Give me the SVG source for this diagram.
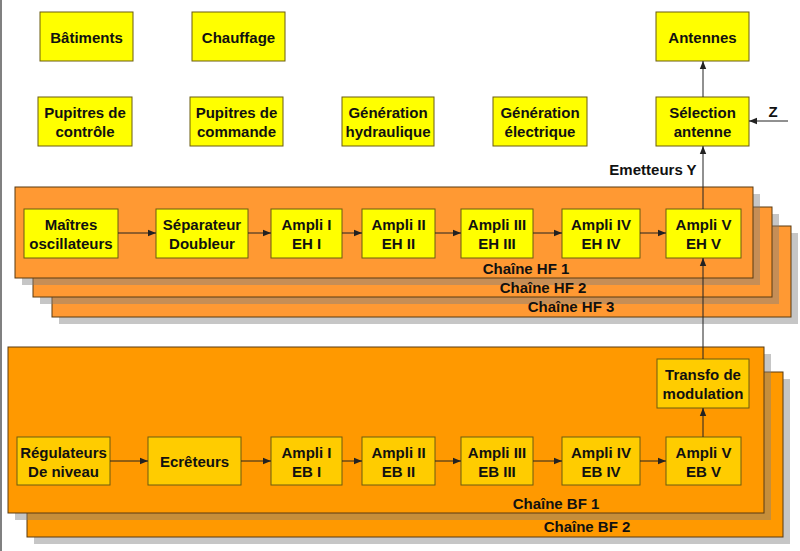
<svg xmlns="http://www.w3.org/2000/svg" width="800" height="551" viewBox="0 0 800 551">
<defs>
<style>
text{font-family:"Liberation Sans",Arial,sans-serif;font-weight:bold;font-size:15px;fill:#111;text-anchor:middle}
.y{fill:#ffff00;stroke:#6b5c10;stroke-width:1}
.g{fill:#ffcc00;stroke:#6b5c10;stroke-width:1}
.hf{fill:#ff9933;stroke:#5a3a10;stroke-width:1}
.bf{fill:#ff9900;stroke:#5a3a10;stroke-width:1}
.sh{fill:#808080;fill-opacity:0.45}
.c{stroke:#222;stroke-width:1;fill:none;marker-end:url(#ah)}
</style>
<marker id="ah" viewBox="0 0 10 10" refX="10" refY="5" markerWidth="8" markerHeight="8" markerUnits="userSpaceOnUse" orient="auto">
<path d="M0,1 L10,5 L0,9 z" fill="#222"/>
</marker>
</defs>
<rect width="800" height="551" fill="#fff"/>
<line x1="1" y1="0" x2="1" y2="551" stroke="#808080" stroke-width="2"/>

<g id="frames">
<rect class="sh" x="59" y="233" width="739" height="91"/>
<rect class="hf" x="52" y="226" width="739" height="91"/>
<rect class="sh" x="40" y="214" width="739" height="90"/>
<rect class="hf" x="33" y="207" width="739" height="90"/>
<rect class="sh" x="22" y="194" width="738" height="91"/>
<rect class="hf" x="15" y="187" width="738" height="91"/>
<rect class="sh" x="34" y="379" width="756" height="165"/>
<rect class="bf" x="27" y="372" width="756" height="165"/>
<rect class="sh" x="15" y="354" width="756" height="166"/>
<rect class="bf" x="8" y="347" width="756" height="166"/>
<text x="526" y="274">Chaîne HF 1</text>
<text x="543" y="293">Chaîne HF 2</text>
<text x="571" y="312">Chaîne HF 3</text>
<text x="556" y="509">Chaîne BF 1</text>
<text x="587" y="532">Chaîne BF 2</text>
</g>

<g id="batiments"><rect class="y" x="40" y="12" width="93" height="49"/><text x="86.5" y="42.5">Bâtiments</text></g>
<g id="chauffage"><rect class="y" x="192" y="12" width="93" height="49"/><text x="238.5" y="42.5">Chauffage</text></g>
<g id="antennes"><rect class="y" x="656" y="12" width="93" height="49"/><text x="702.5" y="42.5">Antennes</text></g>
<g id="pupitres-controle"><rect class="y" x="38" y="97" width="94" height="49"/><text x="85" y="118">Pupitres de</text><text x="85" y="137">contrôle</text></g>
<g id="pupitres-commande"><rect class="y" x="190" y="97" width="93" height="49"/><text x="236.5" y="118">Pupitres de</text><text x="236.5" y="137">commande</text></g>
<g id="gen-hydraulique"><rect class="y" x="342" y="97" width="92" height="49"/><text x="388" y="118">Génération</text><text x="388" y="137">hydraulique</text></g>
<g id="gen-electrique"><rect class="y" x="493" y="97" width="94" height="49"/><text x="540" y="118">Génération</text><text x="540" y="137">électrique</text></g>
<g id="selection-antenne"><rect class="y" x="656" y="97" width="93" height="49"/><text x="702.5" y="118">Sélection</text><text x="702.5" y="137">antenne</text></g>

<g id="maitres"><rect class="y" x="24" y="209" width="94" height="49"/><text x="71" y="230">Maîtres</text><text x="71" y="249">oscillateurs</text></g>
<g id="separateur"><rect class="y" x="156" y="209" width="92" height="49"/><text x="202" y="230">Séparateur</text><text x="202" y="249">Doubleur</text></g>
<g id="eh1"><rect class="y" x="271" y="209" width="71" height="49"/><text x="306.5" y="230">Ampli I</text><text x="306.5" y="249">EH I</text></g>
<g id="eh2"><rect class="y" x="362" y="209" width="73" height="49"/><text x="398.5" y="230">Ampli II</text><text x="398.5" y="249">EH II</text></g>
<g id="eh3"><rect class="y" x="461" y="209" width="72" height="49"/><text x="497" y="230">Ampli III</text><text x="497" y="249">EH III</text></g>
<g id="eh4"><rect class="y" x="562" y="209" width="78" height="49"/><text x="601" y="230">Ampli IV</text><text x="601" y="249">EH IV</text></g>
<g id="eh5"><rect class="y" x="666" y="209" width="75" height="49"/><text x="703.5" y="230">Ampli V</text><text x="703.5" y="249">EH V</text></g>

<g id="transfo"><rect class="g" x="657" y="359" width="92" height="49"/><text x="703" y="380">Transfo de</text><text x="703" y="399">modulation</text></g>
<g id="regulateurs"><rect class="g" x="17" y="437" width="93" height="48"/><text x="63.5" y="458">Régulateurs</text><text x="63.5" y="477">De niveau</text></g>
<g id="ecreteurs"><rect class="g" x="148" y="437" width="93" height="48"/><text x="194.5" y="467">Ecrêteurs</text></g>
<g id="eb1"><rect class="g" x="271" y="437" width="71" height="48"/><text x="306.5" y="458">Ampli I</text><text x="306.5" y="477">EB I</text></g>
<g id="eb2"><rect class="g" x="362" y="437" width="73" height="48"/><text x="398.5" y="458">Ampli II</text><text x="398.5" y="477">EB II</text></g>
<g id="eb3"><rect class="g" x="461" y="437" width="72" height="48"/><text x="497" y="458">Ampli III</text><text x="497" y="477">EB III</text></g>
<g id="eb4"><rect class="g" x="562" y="437" width="78" height="48"/><text x="601" y="458">Ampli IV</text><text x="601" y="477">EB IV</text></g>
<g id="eb5"><rect class="g" x="666" y="437" width="75" height="48"/><text x="703.5" y="458">Ampli V</text><text x="703.5" y="477">EB V</text></g>

<g id="connectors">
<line class="c" x1="703" y1="97" x2="703" y2="61"/>
<line class="c" x1="788" y1="121" x2="749" y2="121"/>
<line class="c" x1="703" y1="209" x2="703" y2="146"/>
<line class="c" x1="703" y1="359" x2="703" y2="258"/>
<line class="c" x1="703" y1="437" x2="703" y2="408"/>
<line class="c" x1="118" y1="233" x2="156" y2="233"/>
<line class="c" x1="248" y1="233" x2="271" y2="233"/>
<line class="c" x1="342" y1="233" x2="362" y2="233"/>
<line class="c" x1="435" y1="233" x2="461" y2="233"/>
<line class="c" x1="533" y1="233" x2="562" y2="233"/>
<line class="c" x1="640" y1="233" x2="666" y2="233"/>
<line class="c" x1="110" y1="461" x2="148" y2="461"/>
<line class="c" x1="241" y1="461" x2="271" y2="461"/>
<line class="c" x1="342" y1="461" x2="362" y2="461"/>
<line class="c" x1="435" y1="461" x2="461" y2="461"/>
<line class="c" x1="533" y1="461" x2="562" y2="461"/>
<line class="c" x1="640" y1="461" x2="666" y2="461"/>
<text x="773" y="117">Z</text>
<text x="653" y="175">Emetteurs Y</text>
</g>
</svg>
